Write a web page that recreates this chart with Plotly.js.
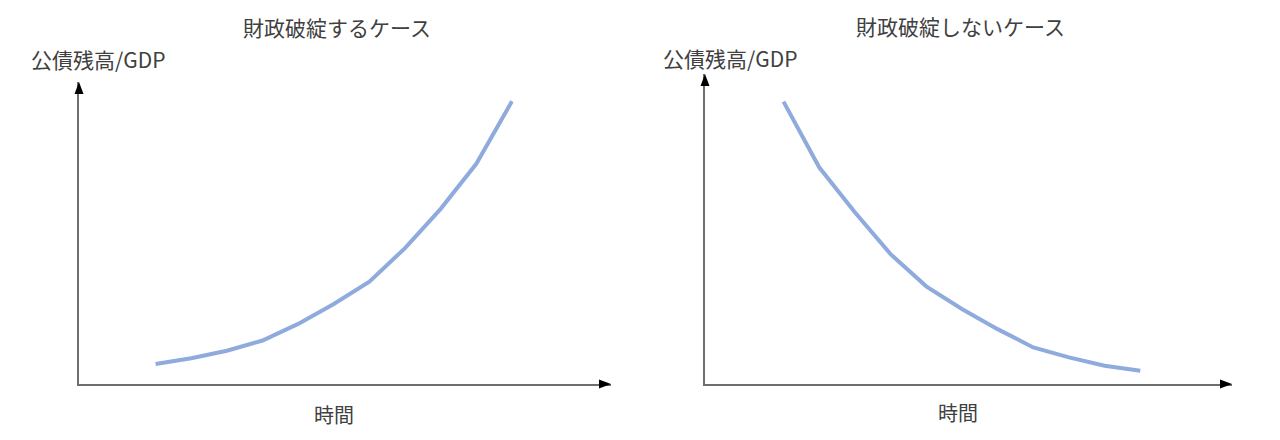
<!DOCTYPE html>
<html>
<head>
<meta charset="utf-8">
<script src="https://cdn.plot.ly/plotly-3.0.1.min.js"></script>
<style>
  html, body { margin: 0; padding: 0; background: #ffffff; }
  #chart { width: 1280px; height: 440px; }
</style>
</head>
<body>
<div id="chart"></div>
<script>
// Time periods (schematic, no units)
const periods = [1, 2, 3, 4, 5, 6, 7, 8, 9, 10, 11];

// Debt-to-GDP path when public finances break down (explosive growth)
const debtRatioDefault = [6.6, 8.5, 11.0, 14.4, 19.9, 26.5, 33.9, 45.0, 58.0, 72.9, 93.6];

// Debt-to-GDP path when public finances stay sustainable (converging)
const debtRatioSustainable = [91.1, 69.9, 55.4, 41.9, 31.5, 24.2, 17.7, 11.8, 8.6, 5.9, 4.3];

// Panel and axis texts
const panelTitles = ['財政破綻するケース', '財政破綻しないケース'];
const yLabel = '公債残高/GDP';
const xLabel = '時間';

const W = 1280, H = 440;
const px = v => v / W;          // pixel x -> paper x
const py = v => 1 - v / H;      // pixel y -> paper y

const FONT = '"Noto Sans CJK JP", "Noto Sans", sans-serif';
const TEXT = '#404040';
const CURVE = '#8faadc';
const AXIS = '#6e6e6e';

// Axis frames in pixels: origin and arrow tips
const frames = [
  { x0: 79, x1: 611, y0: 384, y1: 82 },
  { x0: 705, x1: 1232, y0: 384, y1: 74 }
];

function axisPair(f, xr) {
  const xa = {
    domain: [px(f.x0), px(f.x1)], range: xr,
    showline: true, linecolor: AXIS, linewidth: 1.6,
    showgrid: false, zeroline: false, showticklabels: false, ticks: '',
    fixedrange: true
  };
  const ya = {
    domain: [py(f.y0), py(f.y1)], range: [0, 100],
    showline: true, linecolor: AXIS, linewidth: 1.6,
    showgrid: false, zeroline: false, showticklabels: false, ticks: '',
    fixedrange: true
  };
  return [xa, ya];
}

const [xa1, ya1] = axisPair(frames[0], [-1.15, 13.78]);
const [xa2, ya2] = axisPair(frames[1], [-1.20, 13.57]);
xa2.anchor = 'y2'; ya2.anchor = 'x2';
xa1.anchor = 'y'; ya1.anchor = 'x';

const traces = [
  { x: periods, y: debtRatioDefault, xaxis: 'x', yaxis: 'y', type: 'scatter', mode: 'lines',
    line: { color: CURVE, width: 4 }, hoverinfo: 'skip', showlegend: false },
  { x: periods, y: debtRatioSustainable, xaxis: 'x2', yaxis: 'y2', type: 'scatter', mode: 'lines',
    line: { color: CURVE, width: 4 }, hoverinfo: 'skip', showlegend: false }
];

// Filled arrowheads at the ends of both axes of each panel
const shapes = [];
frames.forEach(f => {
  const hw = 4.5, hl = 12;
  // up arrow
  shapes.push({
    type: 'path', xref: 'paper', yref: 'paper',
    path: `M ${px(f.x0)} ${py(f.y1)} L ${px(f.x0 - hw)} ${py(f.y1 + hl)} L ${px(f.x0 + hw)} ${py(f.y1 + hl)} Z`,
    fillcolor: '#000000', line: { width: 0 }
  });
  // right arrow
  shapes.push({
    type: 'path', xref: 'paper', yref: 'paper',
    path: `M ${px(f.x1)} ${py(f.y0)} L ${px(f.x1 - hl)} ${py(f.y0 - hw)} L ${px(f.x1 - hl)} ${py(f.y0 + hw)} Z`,
    fillcolor: '#000000', line: { width: 0 }
  });
});

function label(text, x, y, size) {
  return {
    text: text, xref: 'paper', yref: 'paper', x: px(x), y: py(y),
    xanchor: 'center', yanchor: 'middle', showarrow: false,
    font: { family: FONT, size: size, color: TEXT }
  };
}

const annotations = [
  label(panelTitles[0], 337, 27, 21),
  label(panelTitles[1], 960, 26, 21),
  label(yLabel, 98, 59, 21),
  label(yLabel, 730, 58, 21),
  label(xLabel, 334, 414, 20),
  label(xLabel, 958, 412, 20)
];

const layout = {
  width: W, height: H,
  margin: { l: 0, r: 0, t: 0, b: 0 },
  paper_bgcolor: '#ffffff', plot_bgcolor: '#ffffff',
  xaxis: xa1, yaxis: ya1, xaxis2: xa2, yaxis2: ya2,
  shapes: shapes, annotations: annotations,
  showlegend: false
};

Plotly.newPlot('chart', traces, layout, { displayModeBar: false, staticPlot: true });
</script>
</body>
</html>
